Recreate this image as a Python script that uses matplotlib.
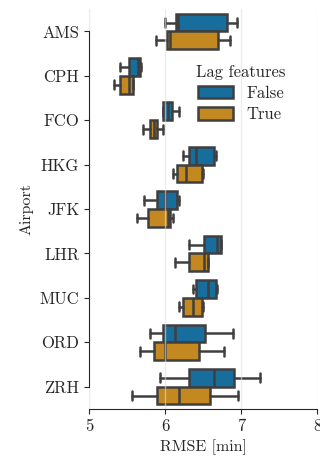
import matplotlib
matplotlib.use("Agg")
import matplotlib.pyplot as plt
from matplotlib.patches import Patch
import seaborn as sns

airports = ["AMS", "CPH", "FCO", "HKG", "JFK", "LHR", "MUC", "ORD", "ZRH"]

# five-number summaries of RMSE per airport (min, q1, median, q3, max)
no_lag_min = [6.00, 5.41, 5.97, 6.23, 5.73, 6.31, 6.37, 5.80, 5.93]
no_lag_q1 = [6.14, 5.53, 5.98, 6.32, 5.89, 6.51, 6.41, 5.98, 6.32]
no_lag_med = [6.17, 5.64, 6.04, 6.41, 6.00, 6.68, 6.57, 6.13, 6.64]
no_lag_q3 = [6.81, 5.67, 6.09, 6.64, 6.16, 6.74, 6.67, 6.53, 6.91]
no_lag_max = [6.94, 5.68, 6.19, 6.67, 6.19, 6.74, 6.69, 6.89, 7.25]

lag_min = [5.88, 5.33, 5.71, 6.10, 5.63, 6.13, 6.19, 5.67, 5.56]
lag_q1 = [6.03, 5.41, 5.80, 6.16, 5.77, 6.32, 6.23, 5.86, 5.90]
lag_med = [6.07, 5.53, 5.855, 6.27, 6.04, 6.51, 6.37, 6.00, 6.18]
lag_q3 = [6.70, 5.58, 5.90, 6.48, 6.07, 6.56, 6.48, 6.45, 6.59]
lag_max = [6.85, 5.58, 5.98, 6.50, 6.11, 6.57, 6.50, 6.78, 6.96]

hue_labels = ["False", "True"]

sns.set_style("ticks")
plt.rcParams["font.family"] = ["cmr10", "DejaVu Serif"]
plt.rcParams["mathtext.fontset"] = "cm"
plt.rcParams["axes.formatter.use_mathtext"] = True

pal = sns.color_palette("colorblind")
cols = [sns.desaturate(pal[0], 0.75), sns.desaturate(pal[1], 0.75)]
edge = "#3f3f3f"

fig = plt.figure(figsize=(3.2, 4.61), dpi=100)
ax = fig.add_axes([0.278, 0.113, 0.713, 0.867])


def stats(lo, q1, med, q3, hi):
    return [dict(whislo=a, q1=b, med=c, q3=d, whishi=e, fliers=[])
            for a, b, c, d, e in zip(lo, q1, med, q3, hi)]


groups = [
    stats(no_lag_min, no_lag_q1, no_lag_med, no_lag_q3, no_lag_max),
    stats(lag_min, lag_q1, lag_med, lag_q3, lag_max),
]
offsets = [-0.2, 0.2]
lw = 1.8
for g, off, c in zip(groups, offsets, cols):
    pos = [i + off for i in range(len(airports))]
    ax.bxp(g, positions=pos, vert=False, widths=0.4, patch_artist=True,
           showfliers=False, capwidths=0.2,
           boxprops=dict(facecolor=c, edgecolor=edge, linewidth=lw),
           medianprops=dict(color=edge, linewidth=lw),
           whiskerprops=dict(color=edge, linewidth=lw),
           capprops=dict(color=edge, linewidth=lw))

ax.set_yticks(range(len(airports)))
ax.set_yticklabels(airports)
ax.set_ylim(len(airports) - 0.5, -0.5)
ax.set_xlim(5, 8)
ax.set_xticks([5, 6, 7, 8])
ax.set_xticklabels(["5", "6", "7", "8"])
ax.tick_params(labelsize=12)
ax.xaxis.grid(True, color="#e0e0e0", linewidth=1.0, alpha=0.6)
ax.set_axisbelow(False)
for sp in ax.spines.values():
    sp.set_zorder(5)
ax.set_xlabel("RMSE [min]", fontsize=11.5)
ax.set_ylabel("Airport", fontsize=11.5)

handles = [Patch(facecolor=c, edgecolor=edge, linewidth=lw) for c in cols]
leg = ax.legend(handles, hue_labels, title="Lag features", frameon=False,
                loc="center", bbox_to_anchor=(0.665, 0.79), fontsize=12,
                title_fontsize=12, handlelength=2.1, handleheight=0.8,
                labelspacing=0.35)

sns.despine(ax=ax, trim=True)
fig.savefig("out.png", dpi=100)
